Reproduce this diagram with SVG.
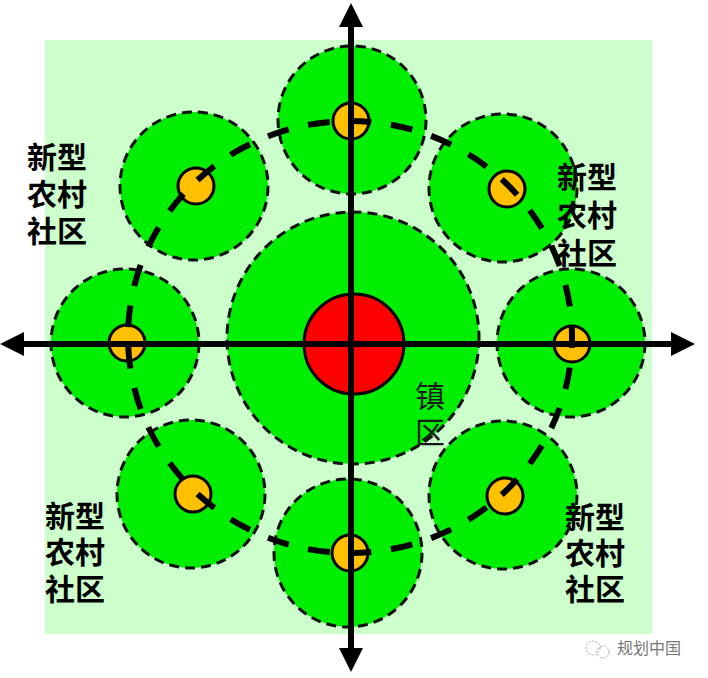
<svg xmlns="http://www.w3.org/2000/svg" width="708" height="678" viewBox="0 0 708 678">
<style>
.zone{fill:#00ee00;stroke:#111;stroke-width:3;stroke-dasharray:10 6}
.dot{fill:#ffc000;stroke:#000;stroke-width:3}
.lbl{font-family:"Noto Sans CJK SC","Noto Sans",sans-serif;font-size:30px;font-weight:bold;fill:#000}
.town{font-family:"Noto Sans CJK SC","Noto Sans",sans-serif;font-size:30px;fill:#1a1a1a}
.axis{stroke:#000;stroke-width:6;fill:none;marker-start:url(#arr);marker-end:url(#arr)}
</style>
<defs>
<marker id="arr" viewBox="0 0 24 24" markerWidth="24" markerHeight="24" markerUnits="userSpaceOnUse" refX="2" refY="12" orient="auto-start-reverse">
<path d="M0,0 L24,12 L0,24 z" fill="#000"/>
</marker>
</defs>
<rect x="45" y="40" width="607" height="594" fill="#ccffcc"/>
<g id="town-zone"><circle class="zone" cx="353" cy="338" r="126"/></g>
<g id="sat-top"><circle class="zone" cx="352" cy="120" r="74"/></g>
<g id="sat-upper-right"><circle class="zone" cx="503" cy="188" r="74"/></g>
<g id="sat-right"><circle class="zone" cx="571" cy="343" r="74"/></g>
<g id="sat-lower-right"><circle class="zone" cx="503" cy="495" r="74"/></g>
<g id="sat-bottom"><circle class="zone" cx="348" cy="553" r="74"/></g>
<g id="sat-lower-left"><circle class="zone" cx="191" cy="494" r="74"/></g>
<g id="sat-left"><circle class="zone" cx="125" cy="343" r="74"/></g>
<g id="sat-upper-left"><circle class="zone" cx="194" cy="186" r="74"/></g>
<g id="label-upper-left">
<text class="lbl" x="27" y="168">新型</text>
<text class="lbl" x="27" y="205">农村</text>
<text class="lbl" x="27" y="242">社区</text>
</g>
<g id="label-upper-right">
<text class="lbl" x="557" y="188">新型</text>
<text class="lbl" x="557" y="226">农村</text>
<text class="lbl" x="557" y="264">社区</text>
</g>
<g id="label-lower-left">
<text class="lbl" x="45" y="527">新型</text>
<text class="lbl" x="45" y="563">农村</text>
<text class="lbl" x="45" y="600">社区</text>
</g>
<g id="label-lower-right">
<text class="lbl" x="565" y="528">新型</text>
<text class="lbl" x="565" y="564">农村</text>
<text class="lbl" x="565" y="600">社区</text>
</g>
<g id="label-town">
<text class="town" x="415" y="407">镇</text>
<text class="town" x="415" y="443">区</text>
</g>
<g id="villages">
<circle class="dot" cx="351" cy="121" r="18"/>
<circle class="dot" cx="507" cy="189" r="18"/>
<circle class="dot" cx="572" cy="344" r="18"/>
<circle class="dot" cx="505" cy="496" r="18"/>
<circle class="dot" cx="350" cy="553" r="18"/>
<circle class="dot" cx="193" cy="494" r="18"/>
<circle class="dot" cx="127" cy="343" r="18"/>
<circle class="dot" cx="196" cy="186" r="18"/>
</g>
<g id="connectors">
<ellipse cx="350" cy="337" rx="222" ry="216" fill="none" stroke="#000" stroke-width="6" pathLength="1386" stroke-dasharray="22 20" stroke-dashoffset="11"/>
<g id="town-center"><circle cx="354" cy="344" r="50" fill="#ff0000" stroke="#000" stroke-width="3"/></g>
<line class="axis" x1="351" y1="650" x2="351" y2="25"/>
<line class="axis" x1="22" y1="344" x2="673" y2="344"/>
</g>
<g id="watermark">
<circle cx="593" cy="648" r="7" fill="none" stroke="#aaa" stroke-width="1" stroke-dasharray="2 1.5"/>
<circle cx="603" cy="652" r="6" fill="none" stroke="#aaa" stroke-width="1" stroke-dasharray="2 1.5"/>
<text x="617" y="654" font-family="'Noto Sans CJK SC','Noto Sans',sans-serif" font-size="16" fill="#777">规划中国</text>
</g>
</svg>
